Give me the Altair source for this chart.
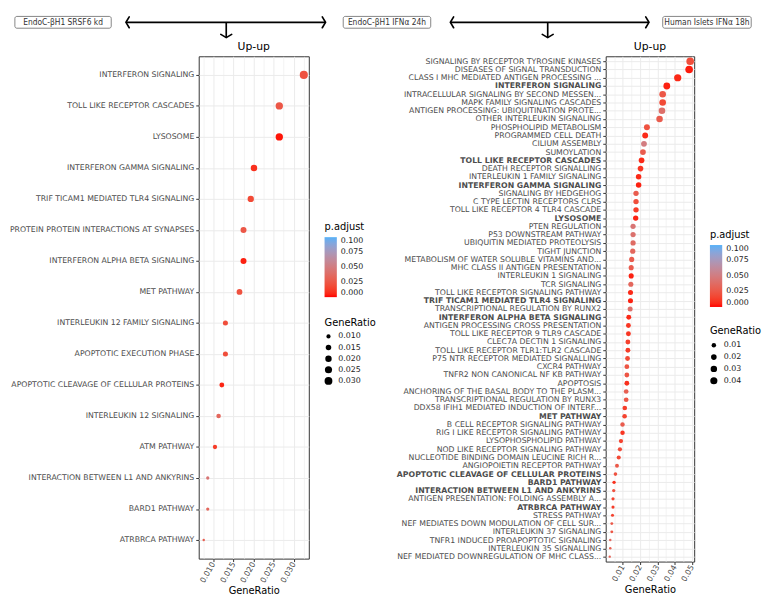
import math
import json
import altair as alt
import pandas as pd

FONT = "DejaVu Sans"
TXT = "#4D4D4D"
DARK = "#333333"
GRID = "#EBEBEB"

# ---------------- data ----------------
left_terms = [
    "INTERFERON SIGNALING", "TOLL LIKE RECEPTOR CASCADES", "LYSOSOME",
    "INTERFERON GAMMA SIGNALING", "TRIF TICAM1 MEDIATED TLR4 SIGNALING",
    "PROTEIN PROTEIN INTERACTIONS AT SYNAPSES", "INTERFERON ALPHA BETA SIGNALING",
    "MET PATHWAY", "INTERLEUKIN 12 FAMILY SIGNALING", "APOPTOTIC EXECUTION PHASE",
    "APOPTOTIC CLEAVAGE OF CELLULAR PROTEINS", "INTERLEUKIN 12 SIGNALING",
    "ATM PATHWAY", "INTERACTION BETWEEN L1 AND ANKYRINS", "BARD1 PATHWAY",
    "ATRBRCA PATHWAY",
]
left_ratio = [0.0325, 0.0264, 0.0264, 0.0201, 0.0193, 0.0175, 0.0175, 0.0165,
              0.0130, 0.0130, 0.0121, 0.0113, 0.0104, 0.0086, 0.0086, 0.0076]
left_padj = [0.022, 0.025, 0.002, 0.008, 0.018, 0.025, 0.004, 0.022,
             0.020, 0.020, 0.005, 0.035, 0.012, 0.045, 0.035, 0.030]

right_terms = [
    "SIGNALING BY RECEPTOR TYROSINE KINASES", "DISEASES OF SIGNAL TRANSDUCTION",
    "CLASS I MHC MEDIATED ANTIGEN PROCESSING ...", "INTERFERON SIGNALING",
    "INTRACELLULAR SIGNALING BY SECOND MESSEN...", "MAPK FAMILY SIGNALING CASCADES",
    "ANTIGEN PROCESSING: UBIQUITINATION PROTE...", "OTHER INTERLEUKIN SIGNALING",
    "PHOSPHOLIPID METABOLISM", "PROGRAMMED CELL DEATH", "CILIUM ASSEMBLY",
    "SUMOYLATION", "TOLL LIKE RECEPTOR CASCADES", "DEATH RECEPTOR SIGNALLING",
    "INTERLEUKIN 1 FAMILY SIGNALING", "INTERFERON GAMMA SIGNALING",
    "SIGNALING BY HEDGEHOG", "C TYPE LECTIN RECEPTORS CLRS",
    "TOLL LIKE RECEPTOR 4 TLR4 CASCADE", "LYSOSOME", "PTEN REGULATION",
    "P53 DOWNSTREAM PATHWAY", "UBIQUITIN MEDIATED PROTEOLYSIS", "TIGHT JUNCTION",
    "METABOLISM OF WATER SOLUBLE VITAMINS AND...", "MHC CLASS II ANTIGEN PRESENTATION",
    "INTERLEUKIN 1 SIGNALING", "TCR SIGNALING", "TOLL LIKE RECEPTOR SIGNALING PATHWAY",
    "TRIF TICAM1 MEDIATED TLR4 SIGNALING", "TRANSCRIPTIONAL REGULATION BY RUNX2",
    "INTERFERON ALPHA BETA SIGNALING", "ANTIGEN PROCESSING CROSS PRESENTATION",
    "TOLL LIKE RECEPTOR 9 TLR9 CASCADE", "CLEC7A DECTIN 1 SIGNALING",
    "TOLL LIKE RECEPTOR TLR1:TLR2 CASCADE", "P75 NTR RECEPTOR MEDIATED SIGNALLING",
    "CXCR4 PATHWAY", "TNFR2 NON CANONICAL NF KB PATHWAY", "APOPTOSIS",
    "ANCHORING OF THE BASAL BODY TO THE PLASM...", "TRANSCRIPTIONAL REGULATION BY RUNX3",
    "DDX58 IFIH1 MEDIATED INDUCTION OF INTERF...", "MET PATHWAY",
    "B CELL RECEPTOR SIGNALING PATHWAY", "RIG I LIKE RECEPTOR SIGNALING PATHWAY",
    "LYSOPHOSPHOLIPID PATHWAY", "NOD LIKE RECEPTOR SIGNALING PATHWAY",
    "NUCLEOTIDE BINDING DOMAIN LEUCINE RICH R...", "ANGIOPOIETIN RECEPTOR PATHWAY",
    "APOPTOTIC CLEAVAGE OF CELLULAR PROTEINS", "BARD1 PATHWAY",
    "INTERACTION BETWEEN L1 AND ANKYRINS", "ANTIGEN PRESENTATION: FOLDING ASSEMBLY A...",
    "ATRBRCA PATHWAY", "STRESS PATHWAY", "NEF MEDIATES DOWN MODULATION OF CELL SUR...",
    "INTERLEUKIN 37 SIGNALING", "TNFR1 INDUCED PROAPOPTOTIC SIGNALING",
    "INTERLEUKIN 35 SIGNALLING", "NEF MEDIATED DOWNREGULATION OF MHC CLASS...",
]
right_ratio = [0.0489, 0.0483, 0.0417, 0.0354, 0.0330, 0.0330, 0.0326, 0.0312,
               0.0239, 0.0229, 0.0222, 0.0216, 0.0208, 0.0202, 0.0191, 0.0191,
               0.0176, 0.0176, 0.0176, 0.0174, 0.0159, 0.0159, 0.0159, 0.0157,
               0.0151, 0.0148, 0.0148, 0.0146, 0.0144, 0.0144, 0.0142, 0.0134,
               0.0132, 0.0132, 0.0129, 0.0129, 0.0127, 0.0123, 0.0123, 0.0123,
               0.0119, 0.0119, 0.0111, 0.0110, 0.0098, 0.0098, 0.0089, 0.0083,
               0.0076, 0.0066, 0.0057, 0.0049, 0.0047, 0.0043, 0.0043, 0.0040,
               0.0036, 0.0036, 0.0027, 0.0027, 0.0024]
right_padj = [0.020, 0.003, 0.006, 0.004, 0.025, 0.018, 0.040, 0.028,
              0.022, 0.006, 0.050, 0.028, 0.006, 0.010, 0.006, 0.004,
              0.028, 0.020, 0.012, 0.004, 0.045, 0.042, 0.038, 0.035,
              0.028, 0.028, 0.004, 0.035, 0.006, 0.004, 0.040, 0.006,
              0.010, 0.010, 0.014, 0.012, 0.018, 0.024, 0.024, 0.008,
              0.030, 0.025, 0.012, 0.015, 0.028, 0.010, 0.015, 0.020,
              0.017, 0.026, 0.022, 0.008, 0.022, 0.015, 0.012, 0.015,
              0.026, 0.024, 0.036, 0.030, 0.032]

left_x_major = [0.010, 0.015, 0.020, 0.025, 0.030]
left_x_minor = [0.0075, 0.0125, 0.0175, 0.0225, 0.0275, 0.0325]
right_x_major = [0.01, 0.02, 0.03, 0.04, 0.05]
right_x_minor = [0.005, 0.015, 0.025, 0.035, 0.045]
padj_ticks = [0.0, 0.025, 0.05, 0.075, 0.1]
left_size_ticks = [0.010, 0.015, 0.020, 0.025, 0.030]
right_size_ticks = [0.01, 0.02, 0.03, 0.04]

hdr_labels = ["EndoC-βH1 SRSF6 kd", "EndoC-βH1 IFNα 24h", "Human Islets IFNα 18h"]
panel_titles = ["Up-up", "Up-up"]

# ---------------- layout (page pixels) ----------------
OX, OY = 198, 55          # page position of the left plot area's top-left corner
LEFT_W, LEFT_H = 112, 511
RIGHT_X, RIGHT_W, RIGHT_H = 612, 90, 514
hdr_box_x0 = [11, 345, 670]
hdr_box_x1 = [109, 434, 760]
hdr_h_x0 = [124, 454]
hdr_h_x1 = [327, 656]
hdr_v_x = [226, 553]
Y_MID = 20.45
Y_BOX0, Y_BOX1, Y_TIP, Y_TITLE = Y_MID - 6, Y_MID + 6, 36.0, 45.5

ident = dict(scale=None, axis=None)


def px(v):
    return [a - OX for a in v]


def py(v):
    return [a - OY for a in v]


boxes = pd.DataFrame({"label": hdr_labels, "x0": px(hdr_box_x0), "x1": px(hdr_box_x1),
                      "y0": py([Y_BOX0] * 3), "y1": py([Y_BOX1] * 3),
                      "xc": px([(a + b) / 2 for a, b in zip(hdr_box_x0, hdr_box_x1)]),
                      "yc": py([Y_MID] * 3)})
titles = pd.DataFrame({"label": panel_titles,
                       "x": px([OX + LEFT_W / 2, RIGHT_X + RIGHT_W / 2]),
                       "y": py([Y_TITLE] * 2)})
hlines = pd.DataFrame({"x0": px(hdr_h_x0), "x1": px(hdr_h_x1), "y": py([Y_MID] * 2)})
vlines = pd.DataFrame({"x": px(hdr_v_x), "y0": py([Y_MID] * 2), "y1": py([Y_TIP] * 2)})
heads_left = pd.DataFrame({"x": px(hdr_h_x0), "y": py([Y_MID] * 2)})
heads_right = pd.DataFrame({"x": px(hdr_h_x1), "y": py([Y_MID] * 2)})
heads_down = pd.DataFrame({"x": px(hdr_v_x), "y": py([Y_TIP] * 2)})

box_layer = alt.Chart(boxes).mark_rect(fill="white", stroke="#666666", strokeWidth=0.8,
                                       cornerRadius=2).encode(
    x=alt.X("x0:Q", **ident), x2="x1:Q", y=alt.Y("y0:Q", **ident), y2="y1:Q")
txt_layer = alt.Chart(boxes).mark_text(font="DejaVu Sans Condensed, Liberation Sans",
                                       fontSize=8.5, color="#333333").encode(
    x=alt.X("xc:Q", **ident), y=alt.Y("yc:Q", **ident), text="label:N")
title_layer = alt.Chart(titles).mark_text(font=FONT, fontSize=11, color="black",
                                          baseline="middle").encode(
    x=alt.X("x:Q", **ident), y=alt.Y("y:Q", **ident), text="label:N")
hl_layer = alt.Chart(hlines).mark_rule(color="black", strokeWidth=1.7).encode(
    x=alt.X("x0:Q", **ident), x2="x1:Q", y=alt.Y("y:Q", **ident))
vl_layer = alt.Chart(vlines).mark_rule(color="black", strokeWidth=1.7).encode(
    x=alt.X("x:Q", **ident), y=alt.Y("y0:Q", **ident), y2="y1:Q")


def head(df, path):
    return alt.Chart(df).mark_point(shape=path, filled=False, size=121, strokeWidth=1.7,
                                    color="black", opacity=1, strokeCap="round").encode(
        x=alt.X("x:Q", **ident), y=alt.Y("y:Q", **ident))


header_layers = [
    box_layer, hl_layer, vl_layer,
    head(heads_left, "M 0.6 -1 L 0 0 L 0.6 1"),
    head(heads_right, "M -0.6 -1 L 0 0 L -0.6 1"),
    head(heads_down, "M -1 -0.6 L 0 0 L 1 -0.6"),
    txt_layer, title_layer,
]


# ---------------- panels ----------------
def size_scale(lo, hi, dmin, dmax):
    ts = [0, 0.1, 0.25, 0.5, 0.75, 1.0]
    dom = [lo + t * (hi - lo) for t in ts]
    rng = [math.pi / 4 * (dmin + (dmax - dmin) * math.sqrt(t)) ** 2 for t in ts]
    return alt.Scale(domain=dom, range=rng, clamp=True)


def panel(terms, ratio, padj, majors, minors, fmt, parity, w, h, dmin, dmax,
          leg_x, leg_cy, leg_sy, grad_len, size_vals, size_fmt, bold_terms, row_pad,
          extra_layers):
    df = pd.DataFrame({"term": terms, "GeneRatio": ratio, "padj": padj})
    lo, hi = min(ratio), max(ratio)
    pad = 0.05 * (hi - lo)
    xdom = [lo - pad, hi + pad]
    ticks = sorted(majors + minors)
    minor_test = f"round(datum.value*{parity}) % 2 == 1"
    xaxis = alt.Axis(
        values=ticks,
        labelExpr=f"{minor_test} ? '' : format(datum.value, '{fmt}')",
        labelAngle=300, labelAlign="right", labelBaseline="middle",
        labelFontSize=8, labelColor=TXT, labelPadding=1, labelOverlap=False,
        labelFlush=False, labelFont=FONT,
        tickColor=DARK, tickSize=3,
        tickOpacity={"condition": {"test": minor_test, "value": 0}, "value": 1},
        domain=False, grid=True, gridColor=GRID,
        gridWidth={"condition": {"test": minor_test, "value": 0.6}, "value": 1},
        title="GeneRatio", titleFontSize=10, titleFontWeight="normal",
        titleColor="black", titlePadding=2, titleFont=FONT,
    )
    yargs = dict(title=None, labelFontSize=7.9, labelColor=TXT, labelPadding=2,
                 labelLimit=500, labelFont=FONT, tickColor=DARK, tickSize=3,
                 domain=False, grid=True, gridColor=GRID, gridWidth=1)
    if bold_terms:
        test = f"indexof({json.dumps(bold_terms)}, datum.value) >= 0"
        yargs["labelFontWeight"] = {"condition": {"test": test, "value": "bold"},
                                    "value": "normal"}
    yaxis = alt.Axis(**yargs)

    color_leg = alt.Legend(
        title="p.adjust", orient="none", legendX=leg_x, legendY=leg_cy,
        direction="vertical", gradientLength=grad_len, gradientThickness=12.5,
        gradientStrokeWidth=0, values=padj_ticks, format=".3f",
        titleFontSize=10, titleFontWeight="normal", titleColor="black", titleFont=FONT,
        titlePadding=5, labelFontSize=8, labelColor="#222222", labelFont=FONT,
        labelOffset=4, padding=0,
    )
    size_leg = alt.Legend(
        title="GeneRatio", orient="none", legendX=leg_x, legendY=leg_sy,
        values=size_vals, format=size_fmt, symbolType="circle",
        symbolFillColor="black", symbolStrokeColor="black", symbolStrokeWidth=0,
        symbolOpacity=1, titleFontSize=10, titleFontWeight="normal",
        titleColor="black", titleFont=FONT, titlePadding=5, labelFontSize=8,
        labelColor="#222222", labelFont=FONT, labelOffset=6, rowPadding=row_pad,
        padding=0,
    )
    points = alt.Chart(df).mark_circle(opacity=1).encode(
        x=alt.X("GeneRatio:Q", scale=alt.Scale(domain=xdom, nice=False, zero=False),
                axis=xaxis),
        y=alt.Y("term:N", sort=terms, scale=alt.Scale(type="point", padding=0.6),
                axis=yaxis),
        color=alt.Color("padj:Q", scale=alt.Scale(domain=[0, 0.1],
                                                  range=["#FF0000", "#56B1F7"],
                                                  interpolate="lab"),
                        legend=color_leg),
        size=alt.Size("GeneRatio:Q", scale=size_scale(lo, hi, dmin, dmax), legend=size_leg),
    )
    layers = [points] + extra_layers
    chart = alt.layer(*layers)
    if extra_layers:
        chart = chart.resolve_scale(x="independent", y="independent")
    return chart.properties(width=w, height=h,
                            view=alt.ViewBackground(stroke=DARK, strokeWidth=1))


bold = [t for t in right_terms if t in left_terms]

left = panel(left_terms, left_ratio, left_padj, left_x_major, left_x_minor, ".3f", 400,
             LEFT_W, LEFT_H, 2.8, 9.3, 128, 169, 266, 61, left_size_ticks, ".3f", [], 3.3,
             header_layers)
right = panel(right_terms, right_ratio, right_padj, right_x_major, right_x_minor, ".2f", 200,
              RIGHT_W, RIGHT_H, 2.7, 8.8, 106, 177, 275, 63, right_size_ticks, ".2f", bold,
              4.0, [])

chart = alt.hconcat(left, right, spacing=RIGHT_X - OX - LEFT_W, bounds="flush").resolve_scale(
    x="independent", y="independent", color="independent", size="independent"
).properties(padding=0).configure(font=FONT, background="white")

chart.save("out.html", embed_options={"renderer": "svg", "actions": False})
